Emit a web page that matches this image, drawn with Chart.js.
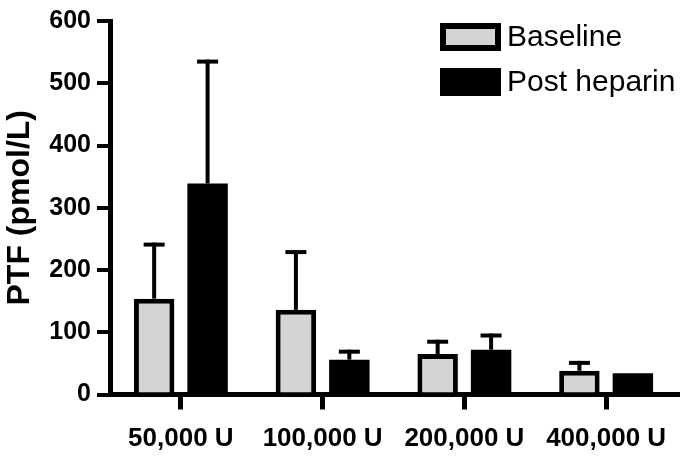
<!DOCTYPE html>
<html>
<head>
<meta charset="utf-8">
<script src="https://cdn.jsdelivr.net/npm/chart.js@4.4.1/dist/chart.umd.min.js"></script>
<style>
  html, body { margin: 0; padding: 0; background: #fff; }
  canvas { display: block; }
</style>
</head>
<body>
<canvas id="ptf_canvas" width="685" height="458"></canvas>
<script>
const categories = ['50,000 U', '100,000 U', '200,000 U', '400,000 U'];
const baseline = [154, 136, 65, 38];
const baselineErr = [90, 96, 23, 16];
const postHeparin = [339, 56, 72, 34];
const postHeparinErr = [199, 16, 26, 0];
const yMin = 0;
const yMax = 600;
const yStep = 100;

Chart.defaults.font.family = "'Liberation Sans', Arial, sans-serif";
Chart.defaults.color = '#000';

// fehlerbalken nur nach oben, wie im original
const errorBars = {
    id: 'errorBars',
    afterDatasetsDraw(chart) {
        const ctx = chart.ctx;
        const yScale = chart.scales.y;
        ctx.save();
        ctx.strokeStyle = '#000';
        ctx.lineWidth = 4;
        chart.data.datasets.forEach((ds, i) => {
            const meta = chart.getDatasetMeta(i);
            meta.data.forEach((bar, j) => {
                const err = ds.errors[j];
                if (!err) return;
                const yTop = yScale.getPixelForValue(ds.data[j] + err);
                ctx.beginPath();
                ctx.moveTo(bar.x, bar.y);
                ctx.lineTo(bar.x, yTop);
                ctx.stroke();
                ctx.beginPath();
                ctx.moveTo(bar.x - 10.5, yTop + 2);
                ctx.lineTo(bar.x + 10.5, yTop + 2);
                ctx.stroke();
            });
        });
        ctx.restore();
    }
};

// legende oben rechts, wie im original gestapelt
const boxLegend = {
    id: 'boxLegend',
    afterDraw(chart) {
        const ctx = chart.ctx;
        ctx.save();
        ctx.font = "30px 'Liberation Sans', Arial, sans-serif";
        ctx.textBaseline = 'middle';
        chart.data.datasets.forEach((ds, i) => {
            const x = 440, y = 23 + i * 45, w = 61, h = 28;
            ctx.fillStyle = '#000';
            ctx.fillRect(x, y, w, h);
            ctx.fillStyle = ds.backgroundColor;
            ctx.fillRect(x + 6, y + 6, w - 12, h - 12);
            ctx.fillStyle = '#000';
            ctx.fillText(ds.label, 507, y + h / 2 + 1);
        });
        ctx.restore();
    }
};

const chart = new Chart(document.getElementById('ptf_canvas'), {
    type: 'bar',
    data: {
        labels: categories,
        datasets: [{
            label: 'Baseline',
            data: baseline,
            errors: baselineErr,
            backgroundColor: '#d4d4d4',
            borderColor: '#000',
            borderWidth: 5
        }, {
            label: 'Post heparin',
            data: postHeparin,
            errors: postHeparinErr,
            backgroundColor: '#000',
            borderWidth: 0
        }]
    },
    options: {
        responsive: false,
        animation: false,
        categoryPercentage: 0.754,
        barPercentage: 0.757,
        layout: {
            padding: { top: 19.3, right: 8, left: 0, bottom: 0 }
        },
        plugins: {
            legend: { display: false },
            tooltip: { enabled: false }
        },
        scales: {
            x: {
                afterFit: (scale) => { scale.height = 63.5; },
                grid: {
                    offset: false,
                    drawOnChartArea: false,
                    drawTicks: true,
                    tickLength: 15,
                    color: '#000',
                    lineWidth: 5
                },
                border: { display: true, color: '#000', width: 5 },
                ticks: {
                    padding: 14,
                    font: { size: 26, weight: 'bold' },
                    color: '#000',
                    maxRotation: 0
                }
            },
            y: {
                min: yMin,
                max: yMax,
                afterFit: (scale) => { scale.width = 110; },
                grid: {
                    drawOnChartArea: false,
                    drawTicks: true,
                    tickLength: 13,
                    color: '#000',
                    lineWidth: 4
                },
                border: { display: true, color: '#000', width: 5 },
                ticks: {
                    stepSize: yStep,
                    padding: 6,
                    font: { size: 25, weight: 'bold' },
                    color: '#000'
                },
                title: {
                    display: true,
                    text: 'PTF (pmol/L)',
                    font: { size: 32, weight: 'bold' },
                    color: '#000',
                    padding: { top: 1, bottom: 0 }
                }
            }
        }
    },
    plugins: [errorBars, boxLegend]
});
</script>
</body>
</html>
